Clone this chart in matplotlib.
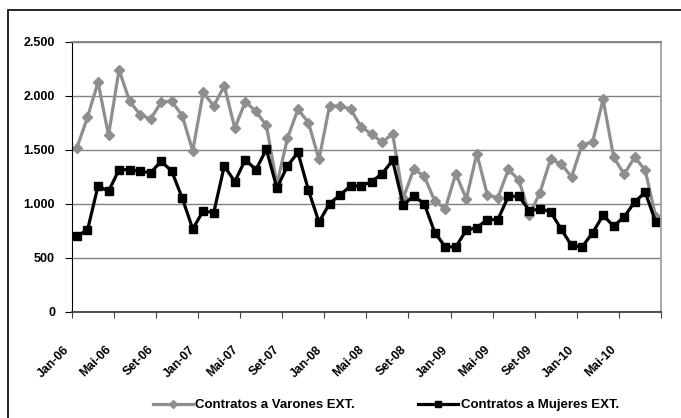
import matplotlib
matplotlib.use("Agg")
import matplotlib.pyplot as plt
from matplotlib.patches import Rectangle
from matplotlib.ticker import FuncFormatter

plt.rcParams["font.family"] = ["Liberation Sans", "DejaVu Sans"]

# monthly series, Jan-06 .. Ago-10
months = ["Jan", "Fev", "Mar", "Abr", "Mai", "Jun", "Jul", "Ago", "Set", "Out", "Nov", "Dez"]
years = ["06", "07", "08", "09", "10"]
labels = [f"{m}-{y}" for y in years for m in months][:56]

varones = [1520, 1800, 2125, 1635, 2240, 1950, 1825, 1785, 1940, 1950, 1815, 1490,
           2030, 1905, 2090, 1700, 1945, 1855, 1725, 1180, 1605, 1875, 1750, 1410,
           1905, 1905, 1875, 1712, 1645, 1568, 1648, 1050, 1318, 1257, 1023, 955,
           1278, 1044, 1463, 1081, 1056, 1318, 1217, 899, 1103, 1410, 1371, 1247,
           1546, 1571, 1965, 1432, 1272, 1432, 1309, 878]
mujeres = [702, 755, 1164, 1115, 1315, 1315, 1300, 1287, 1392, 1303, 1053, 767,
           933, 918, 1349, 1204, 1408, 1315, 1503, 1145, 1349, 1475, 1124, 829,
           1001, 1081, 1164, 1164, 1205, 1278, 1401, 990, 1069, 1001, 733, 600,
           600, 755, 779, 853, 853, 1069, 1069, 933, 952, 927, 767, 613,
           600, 730, 893, 792, 878, 1016, 1106, 829]

W, H = 681, 418
fig = plt.figure(figsize=(W / 100, H / 100), dpi=100)
ax = fig.add_axes([71.7 / W, 1 - 311.7 / H, (661 - 71.7) / W, (311.7 - 41.7) / H])

x = list(range(len(labels)))
grey = "#8e8e8e"
ax.plot(x, varones, color=grey, lw=2.3, marker="D", ms=5.5, mfc=grey, mec=grey,
        label="Contratos a Varones EXT.")
ax.plot(x, mujeres, color="black", lw=2.3, marker="s", ms=6, mfc="black", mec="black",
        label="Contratos a Mujeres EXT.")

ax.set_xlim(-0.5, len(labels) - 0.5)
ax.set_ylim(0, 2500)
ax.set_yticks(range(0, 2501, 500))
ax.yaxis.set_major_formatter(FuncFormatter(lambda v, p: f"{int(v):,}".replace(",", ".")))
ax.grid(axis="y", color="#808080", lw=1)
ax.set_axisbelow(True)

tick_pos = [i - 0.5 for i in range(0, len(labels) + 1, 4)]
ax.set_xticks(tick_pos)
ax.set_xticklabels([labels[i] if i < len(labels) else "" for i in range(0, len(labels) + 1, 4)],
                   rotation=45, ha="right", fontsize=8.8, fontweight="bold")
ax.tick_params(axis="x", length=4, pad=19, color="#404040")
ax.tick_params(axis="y", length=5, pad=7, labelsize=9, color="black")
for t in ax.get_yticklabels():
    t.set_fontweight("bold")

ax.spines["left"].set_color("black")
ax.spines["bottom"].set_color("#404040")
ax.spines["bottom"].set_linewidth(1.3)
ax.spines["top"].set_color("#808080")
ax.spines["right"].set_color("#a0a0a0")
ax.spines["top"].set_linewidth(1.3)
ax.spines["right"].set_linewidth(1.3)

leg = fig.legend(loc="center", bbox_to_anchor=(386 / W, 1 - 405 / H), ncol=2, frameon=False,
                 prop={"weight": "bold", "size": 9.5}, handlelength=3.0, handletextpad=0.2,
                 columnspacing=4.8, markerscale=0.75)

# outer chart border (cropped on right/bottom)
fig.patches.append(Rectangle((8 / W, -0.1), 1.2, 1.1 - 10 / H, transform=fig.transFigure,
                             fill=False, ec="black", lw=1.2))

fig.savefig("out.png", dpi=100)
